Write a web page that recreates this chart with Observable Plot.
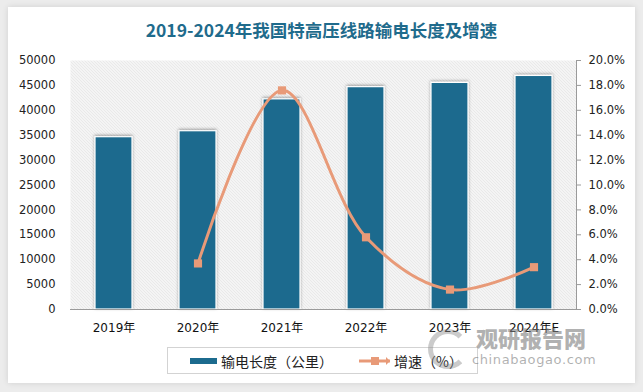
<!DOCTYPE html>
<html>
<head>
<meta charset="utf-8">
<script src="https://cdn.jsdelivr.net/npm/d3@7"></script>
<script src="https://cdn.jsdelivr.net/npm/@observablehq/plot@0.6"></script>
<style>
  html, body { margin: 0; padding: 0; }
  body { width: 643px; height: 392px; background: #ececec; position: relative; overflow: hidden;
         font-family: "DejaVu Sans", "Noto Sans CJK SC", sans-serif; }
  #card { position: absolute; left: 8px; top: 7px; width: 627px; height: 376px; background: #fff;
          box-shadow: 0 0 6px rgba(0,0,0,0.12); }
  #title { position: absolute; left: 0; top: 18px; width: 643px; text-align: center;
           font-family: "Noto Sans CJK SC", sans-serif; font-weight: bold; font-size: 17.5px; color: #1f6b8c;
           line-height: 24px; }
  #chart { position: absolute; left: 0; top: 48px; }
  #legend { position: absolute; left: 167px; top: 347px; width: 309px; height: 25px; border: 1px solid #d3d3d3;
            background: #fff; font-family: "Noto Sans CJK SC", sans-serif; font-size: 14px; color: #222; }
  .item { display: flex; align-items: center; position: absolute; top: 0; height: 25px; }
  #wm { position: absolute; left: 426px; top: 326px; color: rgba(125,125,125,0.6); pointer-events: none; }
  #wm .cn { position: absolute; left: 50px; top: 0; font-family: "Noto Sans CJK SC", sans-serif; font-weight: 900;
            font-size: 22px; white-space: nowrap; line-height: 22px; height: 22px; }
  #wm .en { position: absolute; left: 46px; top: 28px; font-family: "DejaVu Sans", sans-serif; font-size: 13px;
            letter-spacing: 0.6px; white-space: nowrap; line-height: 12px; }
  #wm .logo { position: absolute; left: 2px; top: 3px; width: 30px; height: 30px; border-radius: 50%;
              border: 5px solid rgba(140,140,140,0.45); border-right-color: transparent; }
</style>
</head>
<body>
<div id="card"></div>
<div id="title">2019-2024年我国特高压线路输电长度及增速</div>
<div id="chart"></div>
<div id="legend">
  <div class="item" style="left:22px;">
    <svg width="27" height="8" style="margin-right:4px;"><rect x="0" y="1" width="27" height="6" fill="#1c6b8e"></rect></svg>
    <span>输电长度（公里）</span>
  </div>
  <div class="item" style="left:191px;">
    <svg width="33" height="12" style="margin-right:2px;">
      <line x1="0" y1="6" x2="31" y2="6" stroke="#e89a78" stroke-width="3"></line>
      <rect x="12" y="2" width="8" height="8" fill="#e89a78"></rect>
      <path d="M27,2 L31,6 L27,10 Z" fill="#e89a78"></path>
    </svg>
    <span>增速（%）</span>
  </div>
</div>
<div id="wm">
  <div class="logo"></div>
  <div class="cn">观研报告网</div>
  <div class="en">chinabaogao.com</div>
</div>
<script>
const years = ["2019年", "2020年", "2021年", "2022年", "2023年", "2024年E"];
const lengthKm = [34600, 35800, 42200, 44650, 45500, 46900];
const growthPct = [null, 3.7, 17.6, 5.8, 1.6, 3.4];
const leftTicks = [0, 5000, 10000, 15000, 20000, 25000, 30000, 35000, 40000, 45000, 50000];
const rightTicksPct = [0, 2, 4, 6, 8, 10, 12, 14, 16, 18, 20];

const ratio = 50000 / 20; // growth % mapped onto the left scale
const bars = years.map((y, i) => ({year: y, value: lengthKm[i]}));
const growth = years.map((y, i) => ({year: y, g: growthPct[i]})).filter(d => d.g != null);

const fontTick = "DejaVu Sans, Noto Sans CJK SC, sans-serif";

const chart = Plot.plot({
  width: 643,
  height: 290,
  marginLeft: 70,
  marginRight: 67,
  marginTop: 12,
  marginBottom: 29,
  style: {background: "transparent", fontFamily: fontTick, fontSize: "11.5px", color: "#333"},
  x: {domain: years, paddingInner: 0.56, paddingOuter: 0.28, label: null},
  y: {domain: [0, 50000], label: null},
  marks: [
    Plot.frame({fill: "url(#hatch)", stroke: "none"}),
    Plot.barY(bars, {x: "year", y: "value", fill: "#1c6b8e", stroke: "#fff", strokeWidth: 1.2}),
    Plot.ruleY([0], {stroke: "#9a9a9a", strokeWidth: 1.2}),
    Plot.frame({anchor: "right", stroke: "#9a9a9a"}),
    Plot.axisY({ticks: leftTicks, tickSize: 0, tickPadding: 15, anchor: "left", label: null, fill: "#222",
      tickFormat: d3.format("d")}),
    Plot.axisY({ticks: rightTicksPct.map(v => v * ratio), tickSize: 4, tickPadding: 8, anchor: "right", label: null,
      stroke: "#9a9a9a", fill: "#222", tickFormat: d => (d / ratio).toFixed(1) + "%"}),
    Plot.axisX({tickSize: 0, tickPadding: 14, label: null, fill: "#111", fontSize: 12}),
    Plot.line(growth, {x: "year", y: d => d.g * ratio, stroke: "#e89a78", strokeWidth: 3, curve: "catmull-rom"}),
    Plot.dot(growth, {x: "year", y: d => d.g * ratio, symbol: "square", r: 4.6, fill: "#e89a78", stroke: "none"})
  ]
});

const svg = d3.select(chart);
svg.insert("defs", ":first-child").html(`
  <pattern id="hatch" patternUnits="userSpaceOnUse" width="3" height="3">
    <rect width="3" height="3" fill="#ffffff"></rect>
    <path d="M0,0 L3,3 M-1,2 L1,4 M2,-1 L4,1" stroke="#c8c8c8" stroke-width="0.8"></path>
  </pattern>
  <filter id="shadow" x="-30%" y="-10%" width="160%" height="120%">
    <feDropShadow dx="0" dy="-1" stdDeviation="1.6" flood-color="#000" flood-opacity="0.35"></feDropShadow>
  </filter>`);
svg.selectAll("g[aria-label='bar']").attr("filter", "url(#shadow)");
document.getElementById("chart").appendChild(chart);
</script>
</body>
</html>
